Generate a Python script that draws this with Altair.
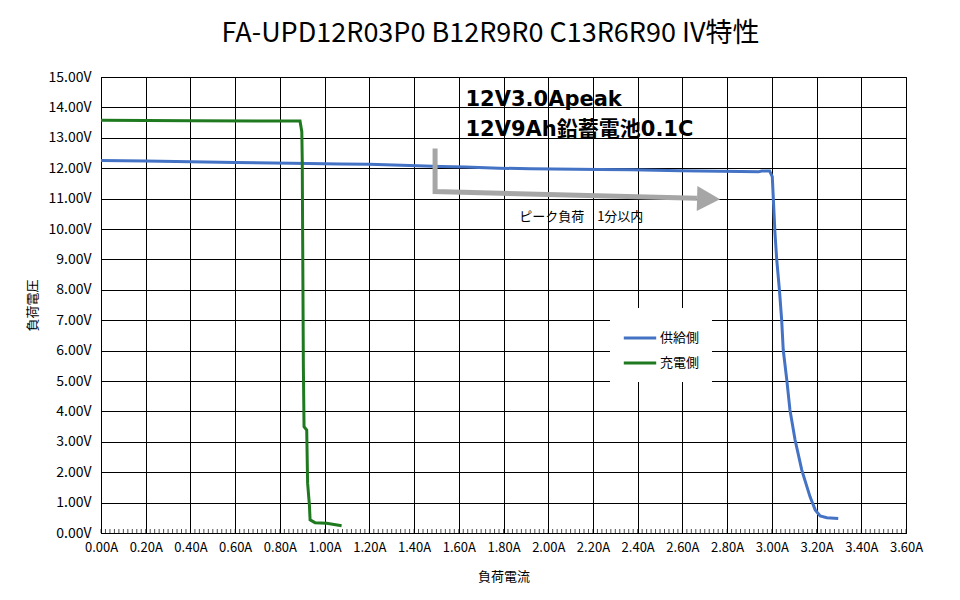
import altair as alt
import pandas as pd

# ---- data ----
supply_current = [0.00, 0.20, 0.40, 0.60, 0.85, 1.07, 1.20, 1.38, 1.52, 1.63, 1.78, 1.92,
                  2.23, 2.37, 2.59, 2.86, 2.94, 2.955, 2.99, 3.002, 3.007, 3.014, 3.022,
                  3.034, 3.044, 3.051, 3.067, 3.081, 3.104, 3.134, 3.171, 3.194, 3.216,
                  3.246, 3.297]
supply_voltage = [12.25, 12.24, 12.21, 12.19, 12.16, 12.14, 12.13, 12.09, 12.06, 12.04, 12.00,
                  11.98, 11.96, 11.95, 11.92, 11.89, 11.88, 11.91, 11.91, 11.72, 10.95, 9.87,
                  8.98, 7.99, 7.00, 6.02, 5.03, 4.05, 3.06, 2.07, 1.19, 0.76, 0.56, 0.50, 0.48]

charge_current = [0.00, 0.40, 0.71, 0.89, 0.898, 0.900, 0.902, 0.905, 0.908, 0.920, 0.924,
                  0.932, 0.935, 0.957, 1.009, 1.076]
charge_voltage = [13.58, 13.56, 13.55, 13.55, 13.20, 12.27, 9.54, 5.47, 3.50, 3.39, 1.64,
                  0.92, 0.43, 0.34, 0.32, 0.24]

series_names = ["供給側", "充電側"]
series_colors = ["#4472c4", "#1f7a1f"]

x_ticks = [round(i * 0.2, 2) for i in range(19)]
y_ticks = list(range(16))
x_minor = [round(i * 0.02, 2) for i in range(181)]

title_text = "FA-UPD12R03P0 B12R9R0 C13R6R90 IV特性"
note_lines = ["12V3.0Apeak", "12V9Ah鉛蓄電池0.1C"]
note_x = [1.63, 1.63]
note_y = [14.24, 13.26]
peak_label = "ピーク負荷　1分以内"
peak_x = [1.87]
peak_y = [10.39]

arrow_x = [1.494, 1.494, 2.665]
arrow_y = [12.65, 11.23, 11.01]
arrow_head_x = [2.717]
arrow_head_y = [10.99]

FONT = "Noto Sans CJK JP"

rows = []
for i, (a, v) in enumerate(zip(supply_current, supply_voltage)):
    rows.append({"I": a, "V": v, "s": series_names[0], "o": i})
for i, (a, v) in enumerate(zip(charge_current, charge_voltage)):
    rows.append({"I": a, "V": v, "s": series_names[1], "o": i})
df = pd.DataFrame(rows)

xs = alt.Scale(domain=[0, 3.6], nice=False, zero=False)
ys = alt.Scale(domain=[0, 15], nice=False, zero=False)

x_axis = alt.Axis(values=x_ticks, labelExpr="format(datum.value, '.2f') + 'A'",
                  ticks=False, labelPadding=8, labelFontSize=13, labelFont=FONT,
                  labelColor="#000", title="負荷電流", titleFont=FONT, titleFontSize=13,
                  titleFontWeight="normal", titlePadding=16, titleColor="#000",
                  grid=True, gridColor="#000", domainColor="#000", labelOverlap=False,
                  labelFlush=False)
y_axis = alt.Axis(values=y_ticks, labelExpr="format(datum.value, '.2f') + 'V'",
                  ticks=False, labelPadding=10, labelFontSize=14, labelFont=FONT,
                  labelColor="#000", title="負荷電圧", titleFont=FONT, titleFontSize=13,
                  titleFontWeight="normal", titlePadding=8, titleColor="#000",
                  grid=True, gridColor="#000", domainColor="#000", labelOverlap=False,
                  tickCount=16)


def X():
    return alt.X("I:Q", scale=xs, axis=x_axis, title="負荷電流")


def Y():
    return alt.Y("V:Q", scale=ys, axis=y_axis, title="負荷電圧")


lines = alt.Chart(df).mark_line(strokeWidth=3).encode(
    x=X(), y=Y(),
    color=alt.Color("s:N", scale=alt.Scale(domain=series_names, range=series_colors),
                    legend=alt.Legend(orient="none", legendX=509, legendY=231, title=None,
                                      fillColor="white", padding=12, symbolType="stroke",
                                      symbolStrokeWidth=3, symbolSize=1050,
                                      labelFontSize=13, labelFont=FONT, labelColor="#000",
                                      rowPadding=-6, labelOffset=2)),
    order="o:Q",
)

minor = alt.Chart(pd.DataFrame({"I": x_minor})).mark_tick(
    orient="vertical", size=4, thickness=1, color="#000").encode(
    x=X(), y=alt.value(454))

arrow_df = pd.DataFrame({"I": arrow_x, "V": arrow_y, "o": list(range(len(arrow_x)))})
arrow = alt.Chart(arrow_df).mark_line(color="#a6a6a6", strokeWidth=5,
                                      strokeJoin="miter", strokeCap="butt").encode(
    x=X(), y=Y(), order="o:Q")
head = alt.Chart(pd.DataFrame({"I": arrow_head_x, "V": arrow_head_y})).mark_point(
    shape="M-0.92,-1L0.92,0L-0.92,1Z", filled=True, color="#a6a6a6", opacity=1,
    size=625, angle=1.5).encode(x=X(), y=Y())

notes = alt.Chart(pd.DataFrame({"I": note_x, "V": note_y, "t": note_lines})).mark_text(
    align="left", baseline="middle", fontSize=21, fontWeight="bold",
    font="DejaVu Sans, Noto Sans CJK JP", color="#000").encode(
    x=X(), y=Y(), text="t:N")

peak = alt.Chart(pd.DataFrame({"I": peak_x, "V": peak_y, "t": [peak_label]})).mark_text(
    align="left", baseline="middle", fontSize=13, font=FONT, color="#000").encode(
    x=X(), y=Y(), text="t:N")

chart = alt.layer(lines, minor, arrow, head, notes, peak).properties(
    width=805, height=456,
    title=alt.TitleParams(title_text, font=FONT, fontSize=27, fontWeight="normal",
                          anchor="middle", offset=22, dx=-13, color="#000"),
    autosize=alt.AutoSizeParams(type="none"),
    padding={"left": 93, "top": 69, "right": 46, "bottom": 59},
    background="white",
).configure_view(stroke="#000", strokeWidth=1)

chart.save("out.html", embed_options={"renderer": "svg", "actions": False})
